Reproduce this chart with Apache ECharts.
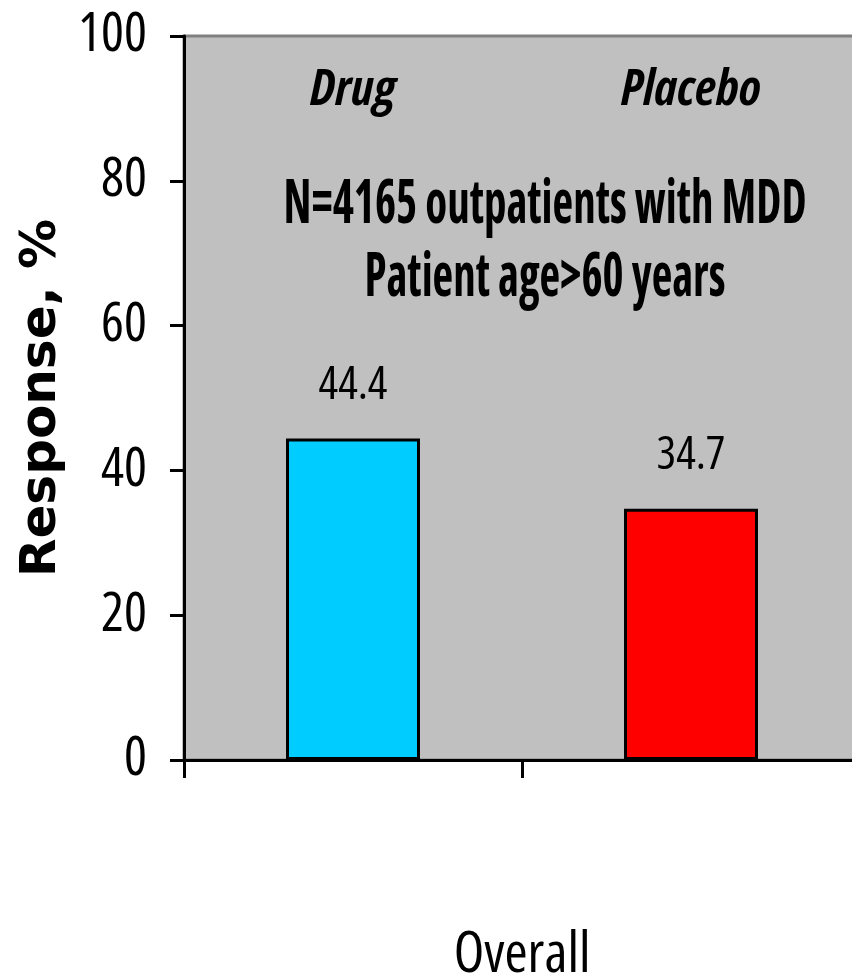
<!DOCTYPE html>
<html>
<head>
<meta charset="utf-8">
<style>
  html, body { margin: 0; padding: 0; background: #ffffff; }
  #chart { width: 852px; height: 980px; }
</style>
<script src="https://cdn.jsdelivr.net/npm/echarts@6/dist/echarts.min.js"></script>
</head>
<body>
<div id="chart"></div>
<script>
// ---- data ----
var categories = ['Drug', 'Placebo'];
var responseValues = [44.4, 34.7];
var yTicks = [0, 20, 40, 60, 80, 100];
var annotationLines = ['N=4165 outpatients with MDD', 'Patient age>60 years'];
var xAxisTitle = 'Overall';
var yAxisTitle = 'Response, %';

// ---- styles ----
var NARROW = "'Open Sans', 'Roboto', sans-serif";
var barColors = ['#00CCFF', '#FF0000'];

var chart = echarts.init(document.getElementById('chart'), null, { renderer: 'canvas' });

var option = {
  backgroundColor: '#ffffff',
  animation: false,
  grid: {
    left: 184, right: -8, top: 36, bottom: 220,
    outerBoundsMode: 'none',
    containLabel: false,
    show: true, backgroundColor: '#C0C0C0', borderColor: '#808080', borderWidth: 3
  },
  xAxis: [
    {
      type: 'category',
      data: categories,
      position: 'bottom',
      name: xAxisTitle,
      nameLocation: 'middle',
      nameGap: 168,
      nameTextStyle: { fontFamily: NARROW, fontWeight: 'normal condensed', fontSize: 56, color: '#000' },
      axisLine: { show: true, onZero: false, lineStyle: { color: '#000', width: 3 } },
      axisTick: { show: true, length: 18, lineStyle: { color: '#000', width: 3 } },
      axisLabel: { show: false },
      splitLine: { show: false }
    },
    {
      type: 'category',
      data: categories,
      position: 'top',
      axisLine: { show: false },
      axisTick: { show: false },
      axisLabel: {
        show: true, inside: true, margin: 30,
        fontFamily: NARROW, fontSize: 50, fontStyle: 'italic', fontWeight: 'bold condensed', color: '#000'
      },
      splitLine: { show: false }
    }
  ],
  yAxis: {
    type: 'value',
    min: yTicks[0],
    max: yTicks[yTicks.length - 1],
    interval: yTicks[1] - yTicks[0],
    name: yAxisTitle,
    nameLocation: 'middle',
    nameRotate: 90,
    nameGap: 112,
    nameTextStyle: { fontFamily: "'DejaVu Sans', sans-serif", fontWeight: 'bold', fontSize: 50, color: '#000' },
    axisLine: { show: true, lineStyle: { color: '#000', width: 3 } },
    axisTick: { show: true, length: 14, lineStyle: { color: '#000', width: 3 } },
    axisLabel: { margin: 37, fontFamily: NARROW, fontWeight: 'normal condensed', fontSize: 54, color: '#000' },
    splitLine: { show: false }
  },
  series: [{
    type: 'bar',
    xAxisIndex: 0,
    barWidth: 134,
    data: responseValues.map(function (v, i) {
      return { value: v, itemStyle: { color: barColors[i] } };
    }),
    itemStyle: { borderColor: '#000', borderWidth: 3 },
    label: {
      show: true, position: 'top', distance: 30,
      fontFamily: NARROW, fontWeight: 'normal condensed', fontSize: 46, color: '#000',
      formatter: function (p) { return p.value.toFixed(1); }
    }
  }],
  graphic: annotationLines.map(function (t, i) {
    return {
      type: 'text',
      x: 545,
      y: 206 + i * 73,
      scaleY: 1.35,
      z: 100,
      style: {
        text: t,
        fontFamily: NARROW,
        fontWeight: 'bold condensed',
        fontSize: 45,
        fill: '#000',
        textAlign: 'center',
        textVerticalAlign: 'middle'
      }
    };
  })
};

chart.setOption(option);
</script>
</body>
</html>
